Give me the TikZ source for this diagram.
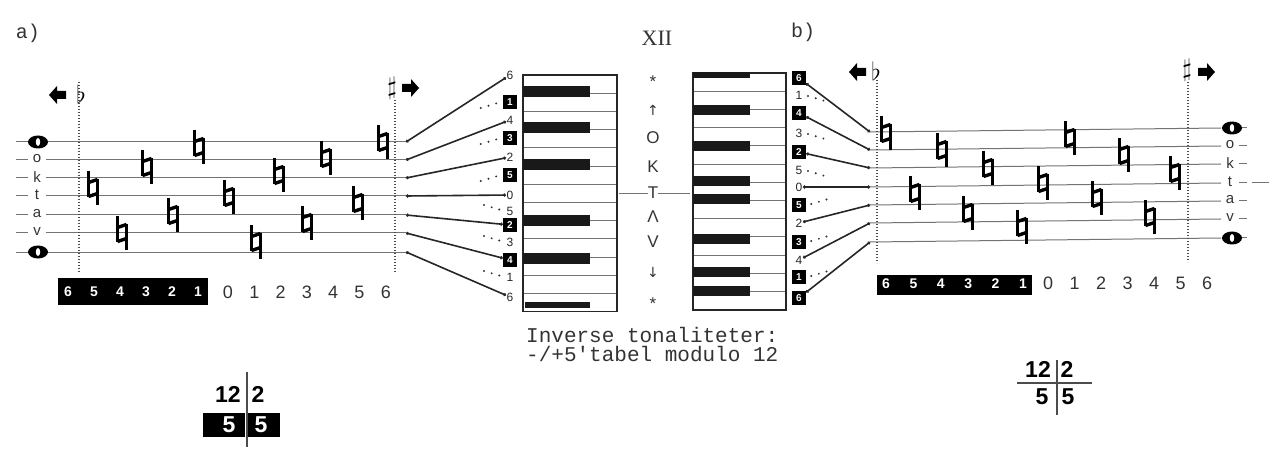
\documentclass[tikz,border=0pt]{standalone}
\usepackage{fontspec}
\setmainfont{Liberation Sans}
\newfontfamily\monof{Liberation Mono}
\newfontfamily\seriff{Liberation Serif}
\newfontfamily\dvs{DejaVu Sans}
\usetikzlibrary{arrows.meta}
\begin{document}
\begin{tikzpicture}[x=1pt,y=-1pt,
  staffline/.style={line width=1pt, black!55},
  conn/.style={line width=1.6pt, black!85, {Circle[length=3pt]}-{Circle[length=3pt]}},
  dotrun/.style={line width=2.2pt, line cap=round, dash pattern=on 0pt off 8pt, black!80},
  vdots/.style={line width=1.2pt, dash pattern=on 1.2pt off 1.8pt, black!70},
  keyline/.style={line width=0.8pt, black!55},
  keyframe/.style={line width=1.3pt, black!85},
  bkey/.style={fill=black!90},
  blab/.style={fill=black, text=white, font=\bfseries\fontsize{10}{10}\selectfont, inner sep=0pt, minimum width=14pt, minimum height=14pt},
  plab/.style={font=\fontsize{12}{12}\selectfont, inner sep=0.5pt, text=black!85},
  rownum/.style={font=\fontsize{18}{18}\selectfont, inner sep=0pt, text=black!80},
  wnum/.style={font=\bfseries\fontsize{14}{14}\selectfont, text=white, inner sep=0pt},
  slab/.style={font=\fontsize{15}{15}\selectfont, inner sep=0pt, text=black!80},
  okt/.style={font=\fontsize{17}{17}\selectfont, inner sep=0pt, text=black!80},
  frac/.style={font=\bfseries\fontsize{23}{23}\selectfont, inner sep=0pt},
  wfrac/.style={font=\bfseries\fontsize{23}{23}\selectfont, inner sep=0pt, text=white},
  acc/.style={font=\fontsize{26}{26}\selectfont, inner sep=0pt},
  lbl/.style={font=\monof\fontsize{20}{20}\selectfont, inner sep=0pt, text=black!80},
  natural/.pic={
    \draw[line width=2.2pt] (-4.5,-17) -- (-4.5,9);
    \draw[line width=2.2pt] (4.5,-9) -- (4.5,17);
    \draw[line width=3.4pt] (-4.5,-5.5) -- (4.5,-8.5);
    \draw[line width=3.4pt] (-4.5,8.5) -- (4.5,5.5);
  },
  eye/.pic={
    \fill (0,0) ellipse [x radius=10pt, y radius=6.5pt];
    \fill[white] (0,0) ellipse [x radius=2.2pt, y radius=4pt];
  },
  larrow/.pic={\fill (-9,0) -- (-1,-9) -- (-1,-4) -- (8,-4) -- (8,4) -- (-1,4) -- (-1,9) -- cycle;},
  rarrow/.pic={\fill (9,0) -- (1,-9) -- (1,-4) -- (-8,-4) -- (-8,4) -- (1,4) -- (1,9) -- cycle;},
]
\useasboundingbox (0,0) rectangle (1269,449);

% ---------- titles ----------
\node[lbl] (ta) at (28,33) {a)};
\node[lbl] (tb) at (803,32) {b)};
\node[font=\seriff\fontsize{22}{22}\selectfont, inner sep=0pt, text=black!80] (txii) at (657,38) {XII};

% ---------- left staff (a) ----------
\foreach \i/\y in {1/142,2/160,3/178,4/196,5/215,6/233,7/252}{
  \draw[staffline] (46,\y) -- (406,\y);
  \draw[staffline] (16,\y) -- (28,\y);
  \coordinate (sa\i) at (406,\y);
}
\pic at (38,142) {eye};
\pic at (38,252) {eye};
\node[slab] (lo) at (37,159) {o};
\node[slab] (lk) at (37,177) {k};
\node[slab] (lt) at (37,195) {t};
\node[slab] (la) at (37,214) {a};
\node[slab] (lv) at (37,232) {v};

\draw[vdots] (79,82) -- (79,273);
\draw[vdots] (395,100) -- (395,273);
\pic at (58,95) {larrow};
\node[acc] (fla) at (81,94) {$\flat$};
\node[acc] (sha) at (392,88) {$\sharp$};
\pic at (410,88) {rarrow};

\foreach \x/\y in {93/188,122/233,147/167,173/215,199/147,229/197,256/242,279/175,307/223,326/158,358/203,383/142}
  \pic at (\x,\y) {natural};

% number row a
\node[fill=black, minimum width=150pt, minimum height=27pt, inner sep=0pt] (rowa) at (133,291.5) {};
\foreach \d [count=\k from 0] in {6,5,4,3,2,1}
  \node[wnum] (wa\k) at (68+26*\k,292) {\d};
\foreach \d [count=\k from 0] in {0,1,2,3,4,5,6}
  \node[rownum] (na\k) at (228+26.3*\k,292) {\d};

% ---------- left keyboard ----------
\foreach \i in {1,...,12} \draw[keyline] (523,75+18.2*\i) -- (617,75+18.2*\i);
\draw[keyframe] (523,75) rectangle (617,311.6);
\foreach \y in {92,128,165,221,258} \fill[bkey] (523,\y-5.5) rectangle (590,\y+5.5);
\fill[bkey] (525,302) rectangle (590,308);

% left labels
\node[plab] (L0) at (510,75) {6};
\node[blab] (L1) at (510,102) {1};
\node[plab] (L2) at (510,120) {4};
\node[blab] (L3) at (510,138) {3};
\node[plab] (L4) at (510,157) {2};
\node[blab] (L5) at (510,175) {5};
\node[plab] (L6) at (510,195) {0};
\node[plab] (L7) at (510,211) {5};
\node[blab] (L8) at (510,225) {2};
\node[plab] (L9) at (510,242) {3};
\node[blab] (L10) at (510,260) {4};
\node[plab] (L11) at (510,277) {1};
\node[plab] (L12) at (510,297) {6};

\draw[conn] (sa1) -- (L0);
\draw[conn] (sa2) -- (L2);
\draw[conn] (sa3) -- (L4);
\draw[conn] (sa4) -- (L6);
\draw[conn] (sa5) -- (L8);
\draw[conn] (sa6) -- (L10);
\draw[conn] (sa7) -- (L12);
\foreach \n in {1,3,5}
  \draw[dotrun] ([shift={(-22,6)}]L\n.west) -- ([shift={(-5,1)}]L\n.west);
\foreach \n in {7,9,11}
  \draw[dotrun] ([shift={(-22,-6)}]L\n.west) -- ([shift={(-5,-1)}]L\n.west);

% ---------- middle column ----------
\node[okt] (m1) at (653,82) {*};
\node[okt,font=\dvs\fontsize{14}{14}\selectfont] (m2) at (653,110) {↑};
\node[okt] (m3) at (653,138) {O};
\node[okt] (m4) at (653,167) {K};
\node[okt] (m5) at (653,193) {T};
\node[okt] (m6) at (653,217) {Λ};
\node[okt] (m7) at (653,242) {V};
\node[okt,font=\dvs\fontsize{14}{14}\selectfont] (m8) at (653,272) {↓};
\node[okt] (m9) at (653,304) {*};
\coordinate (kl) at (619,193);
\coordinate (kr) at (690,193);
\draw[keyline] (kl) -- (m5.west);
\draw[keyline] (m5.east) -- (kr);

% ---------- right keyboard ----------
\foreach \i in {1,...,12} \draw[keyline] (693,73+18.2*\i) -- (786,73+18.2*\i);
\draw[keyframe] (693,73) rectangle (786,310);
\foreach \y in {110,146,181,199,239,272,291} \fill[bkey] (693,\y-5) rectangle (750,\y+5);
\fill[bkey] (693,72) rectangle (750,78);

% right labels
\node[blab] (R0) at (799,78) {6};
\node[plab] (R1) at (799,95) {1};
\node[blab] (R2) at (799,113) {4};
\node[plab] (R3) at (799,133) {3};
\node[blab] (R4) at (799,152) {2};
\node[plab] (R5) at (799,170) {5};
\node[plab] (R6) at (799,187) {0};
\node[blab] (R7) at (799,205) {5};
\node[plab] (R8) at (799,223) {2};
\node[blab] (R9) at (799,242) {3};
\node[plab] (R10) at (799,260) {4};
\node[blab] (R11) at (799,277) {1};
\node[blab] (R12) at (799,298) {6};

% ---------- right staff (b) ----------
\foreach \i/\y in {1/132,2/150,3/168,4/187,5/205,6/223,7/242}{
  \draw[staffline] (870,\y) -- (1221,\y-4);
  \draw[staffline] (1239,\y-4) -- (1247,\y-4);
  \coordinate (sb\i) at (870,\y);
}
\draw[staffline] (1252,183) -- (1269,183);
\pic at (1232,128) {eye};
\pic at (1232,238) {eye};
\node[slab] (ro) at (1230,145) {o};
\node[slab] (rk) at (1230,163) {k};
\node[slab] (rt) at (1230,182) {t};
\node[slab] (ra) at (1230,200) {a};
\node[slab] (rv) at (1230,218) {v};

\draw[vdots] (877,80) -- (877,263);
\draw[vdots] (1188,82) -- (1188,262);
\pic at (858,72) {larrow};
\node[acc] (flb) at (876,71) {$\flat$};
\node[acc] (shb) at (1187,70) {$\sharp$};
\pic at (1206,72) {rarrow};

\foreach \x/\y in {886/133,915/193,942/150,968/213,988/168,1022/227,1043/183,1070/138,1097/198,1124/155,1150/217,1175/173}
  \pic at (\x,\y) {natural};

\draw[conn] (R0) -- (sb1);
\draw[conn] (R2) -- (sb2);
\draw[conn] (R4) -- (sb3);
\draw[conn] (R6) -- (sb4);
\draw[conn] (R8) -- (sb5);
\draw[conn] (R10) -- (sb6);
\draw[conn] (R12) -- (sb7);
\foreach \n in {1,3,5}
  \draw[dotrun] ([shift={(5,1)}]R\n.east) -- ([shift={(22,6)}]R\n.east);
\foreach \n in {7,9,11}
  \draw[dotrun] ([shift={(5,-1)}]R\n.east) -- ([shift={(22,-6)}]R\n.east);

% number row b
\node[fill=black, minimum width=155pt, minimum height=20pt, inner sep=0pt] (rowb) at (954.5,285) {};
\foreach \d [count=\k from 0] in {6,5,4,3,2,1}
  \node[wnum] (wb\k) at (886+27.4*\k,284) {\d};
\foreach \d [count=\k from 0] in {0,1,2,3,4,5,6}
  \node[rownum] (nb\k) at (1048+26.5*\k,283) {\d};

% ---------- caption ----------
\node[font=\monof\fontsize{21}{21}\selectfont, inner sep=0pt, anchor=west, text=black!80] (cap1) at (526,335) {Inverse tonaliteter:};
\node[font=\monof\fontsize{21}{21}\selectfont, inner sep=0pt, anchor=west, text=black!80] (cap2) at (526,354) {-/+5'tabel modulo 12};

% ---------- fractions ----------
\node[frac] (fa1) at (228,394) {12};
\node[frac] (fa2) at (258,394) {2};
\node[fill=black, minimum width=42pt, minimum height=24pt, inner sep=0pt] (fa3) at (224,425) {};
\node[fill=black, minimum width=32pt, minimum height=24pt, inner sep=0pt] (fa4) at (264,425) {};
\node[wfrac] (fa5) at (229,425) {5};
\node[wfrac] (fa6) at (261,425) {5};
\coordinate (fav1) at (247,372);
\coordinate (fav2) at (247,447);
\draw[line width=1.2pt, black!70] (fav1) -- (fav2);

\node[frac] (fb1) at (1038,369) {12};
\node[frac] (fb2) at (1067,369) {2};
\node[frac] (fb3) at (1042,397) {5};
\node[frac] (fb4) at (1068,397) {5};
\coordinate (fbh1) at (1017,383);
\coordinate (fbh2) at (1092,383);
\coordinate (fbv1) at (1057,360);
\coordinate (fbv2) at (1057,415);
\draw[line width=1.2pt, black!70] (fbh1) -- (fbh2);
\draw[line width=1.2pt, black!70] (fbv1) -- (fbv2);
\end{tikzpicture}
\end{document}
